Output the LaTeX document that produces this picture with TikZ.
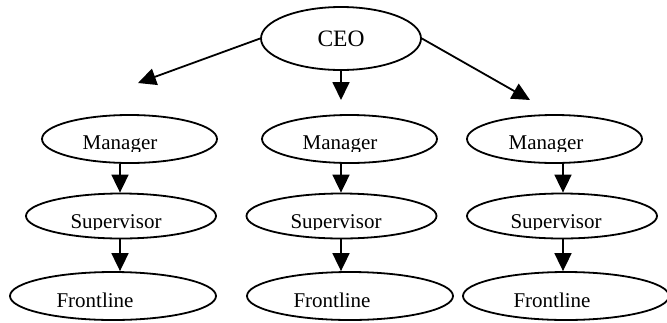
\documentclass[tikz,border=0pt]{standalone}
\usepackage{fontspec}
\setmainfont{Liberation Serif}
\usetikzlibrary{shapes.geometric,arrows.meta}

% Label whose lower part is cut just under the baseline
\newcommand{\cutlabel}[4]{%
  \begin{scope}
    \clip (#2-75, #3-30) rectangle (#2+75, #3+1.5);
    \node[lbl] (#1) at (#2,#3) {#4};
  \end{scope}}

\begin{document}
\begin{tikzpicture}[x=1pt, y=-1pt,
  box/.style={draw, ellipse, line width=1.8pt, inner sep=0pt},
  lbl/.style={anchor=base, inner sep=0pt, font=\fontsize{21}{21}\selectfont},
  arr/.style={line width=1.8pt, -{Triangle[length=18pt,width=17pt]}}]
\useasboundingbox (0,0) rectangle (667,322);

% top of the hierarchy
\node[box, minimum width=160pt, minimum height=63pt] (ceo) at (341,38.5) {};
\node[anchor=base, inner sep=0pt, font=\fontsize{23.5}{23.5}\selectfont] (ceot) at (341,46) {CEO};

% managers
\node[box, minimum width=175pt, minimum height=48pt] (mL) at (129.5,139) {};
\node[box, minimum width=175pt, minimum height=48pt] (mM) at (349.5,139) {};
\node[box, minimum width=175pt, minimum height=48pt] (mR) at (554.5,139) {};
\cutlabel{mLt}{120}{149.5}{Manager}
\cutlabel{mMt}{340}{149.5}{Manager}
\cutlabel{mRt}{546}{149.5}{Manager}

% supervisors
\node[box, minimum width=190pt, minimum height=45pt] (sL) at (121,216) {};
\node[box, minimum width=190pt, minimum height=45pt] (sM) at (341.5,216) {};
\node[box, minimum width=190pt, minimum height=45pt] (sR) at (562,216) {};
\cutlabel{sLt}{116}{228}{Supervisor}
\cutlabel{sMt}{336}{228}{Supervisor}
\cutlabel{sRt}{556}{228}{Supervisor}

% frontline staff
\node[box, minimum width=206pt, minimum height=48pt] (fL) at (113,296) {};
\node[box, minimum width=206pt, minimum height=48pt] (fM) at (350,296) {};
\node[box, minimum width=206pt, minimum height=48pt] (fR) at (566,296) {};
\cutlabel{fLt}{95}{307}{Frontline}
\cutlabel{fMt}{332}{307}{Frontline}
\cutlabel{fRt}{552}{307}{Frontline}

% column lines and free arrow ends
\coordinate (colL) at (120,0);
\coordinate (colM) at (341,0);
\coordinate (colR) at (563,0);
\coordinate (tipL) at (138,83);
\coordinate (tipM) at (341,100);
\coordinate (tipR) at (530,100);

% arrows leaving the CEO
\draw[arr] (ceo.west) -- (tipL);
\draw[arr] (ceo.south) -- (tipM);
\draw[arr] (ceo.east) -- (tipR);

% manager -> supervisor -> frontline
\draw[arr] (mL.south -| colL) -- (sL.north -| colL);
\draw[arr] (mM.south -| colM) -- (sM.north -| colM);
\draw[arr] (mR.south -| colR) -- (sR.north -| colR);
\draw[arr] (sL.south -| colL) -- (fL.north -| colL);
\draw[arr] (sM.south -| colM) -- (fM.north -| colM);
\draw[arr] (sR.south -| colR) -- (fR.north -| colR);
\end{tikzpicture}
\end{document}
